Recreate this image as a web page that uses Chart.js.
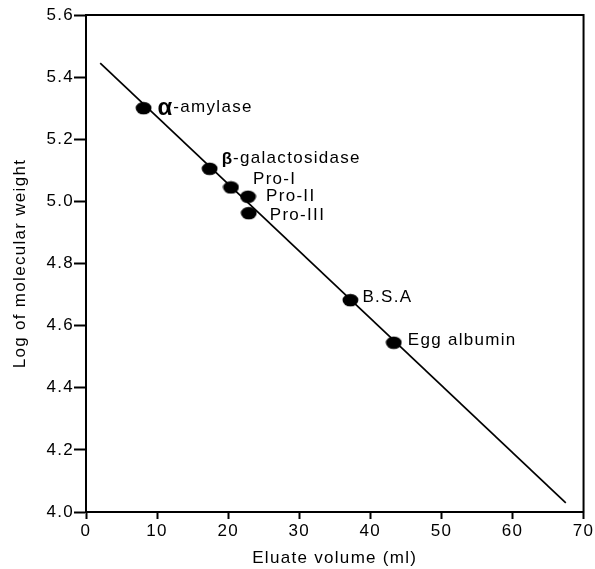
<!DOCTYPE html>
<html>
<head>
<meta charset="utf-8">
<script src="https://cdn.jsdelivr.net/npm/chart.js@4/dist/chart.umd.min.js"></script>
<style>
  html, body { margin: 0; padding: 0; background: #fff; }
  #wrap { width: 595px; height: 569px; }
</style>
</head>
<body>
<div id="wrap"><canvas id="graf"></canvas></div>
<script>
  // proteins
  const proteins = ['α-amylase', 'β-galactosidase', 'Pro-I', 'Pro-II', 'Pro-III', 'B.S.A', 'Egg albumin'];
  const eluateVol = [8.1, 17.4, 20.4, 22.8, 22.9, 37.2, 43.3];
  const logMW = [5.30, 5.105, 5.045, 5.015, 4.962, 4.682, 4.545];

  // fitted line endpoints
  const lineVol = [2.0, 67.5];
  const lineLogMW = [5.445, 4.029];

  const xTicks = [0, 10, 20, 30, 40, 50, 60, 70];
  const yTicks = [4.0, 4.2, 4.4, 4.6, 4.8, 5.0, 5.2, 5.4, 5.6];

  // ellipse marker
  const marca = document.createElement('canvas');
  marca.width = 17; marca.height = 14;
  const mc = marca.getContext('2d');
  mc.fillStyle = '#000';
  mc.beginPath();
  mc.ellipse(8.5, 7, 7.9, 6.3, 0, 0, Math.PI * 2);
  mc.fill();

  const fonte = '"Liberation Sans", Arial, Helvetica, sans-serif';
  const espaco = '1.3px';

  // label offsets from each point (px)
  const offsets = [[14, -1], [12, -10], [22, -8], [18, 0], [21, 2], [12, -2.5], [14, -2.5]];

  const rotulos = {
    id: 'rotulos',
    afterDatasetsDraw(chart) {
      const c = chart.ctx;
      const meta = chart.getDatasetMeta(1);
      c.save();
      c.fillStyle = '#000';
      c.textBaseline = 'middle';
      c.textAlign = 'left';
      meta.data.forEach((pt, i) => {
        let x = pt.x + offsets[i][0];
        const y = pt.y + offsets[i][1];
        let nome = proteins[i];
        if (i === 0 || i === 1) {
          const grego = nome[0];
          c.letterSpacing = '0px';
          c.font = i === 0 ? 'bold 24px ' + fonte : 'bold 17px ' + fonte;
          c.fillText(grego, x, y + 1);
          x += c.measureText(grego).width + 1;
          nome = nome.slice(1);
        }
        c.letterSpacing = espaco;
        c.font = '17px ' + fonte;
        c.fillText(nome, x, y);
      });
      c.restore();
    }
  };

  const moldura = {
    id: 'moldura',
    beforeDraw(chart) {
      chart.ctx.letterSpacing = espaco;
    },
    afterDraw(chart) {
      const a = chart.chartArea;
      const c = chart.ctx;
      c.save();
      c.strokeStyle = '#000';
      c.lineWidth = 2;
      c.strokeRect(a.left, a.top, a.right - a.left, a.bottom - a.top);
      c.restore();
    }
  };

  const ctx = document.getElementById('graf').getContext('2d');
  new Chart(ctx, {
    type: 'scatter',
    data: {
      datasets: [{
        data: lineVol.map((v, i) => ({ x: v, y: lineLogMW[i] })),
        showLine: true,
        borderColor: '#000',
        borderWidth: 1.7,
        pointRadius: 0,
        fill: false
      }, {
        data: eluateVol.map((v, i) => ({ x: v, y: logMW[i] })),
        pointStyle: marca,
        backgroundColor: '#000',
        borderColor: '#000'
      }]
    },
    options: {
      responsive: true,
      maintainAspectRatio: false,
      animation: false,
      layout: { padding: { left: 0, top: 15, right: 11, bottom: 0 } },
      plugins: {
        legend: { display: false },
        tooltip: { enabled: false }
      },
      scales: {
        x: {
          type: 'linear',
          min: 0, max: 70,
          afterBuildTicks: s => { s.ticks = xTicks.map(v => ({ value: v })); },
          afterFit: s => { s.height = 57; },
          border: { color: '#000', width: 2 },
          grid: { drawOnChartArea: false, color: '#000', tickLength: 7, tickWidth: 2 },
          ticks: { color: '#000', font: { family: fonte, size: 17 }, padding: 2, maxRotation: 0 },
          title: { display: true, text: 'Eluate volume (ml)', color: '#000', font: { family: fonte, size: 17 }, padding: { top: 0, bottom: 0 } }
        },
        y: {
          min: 4.0, max: 5.6,
          afterBuildTicks: s => { s.ticks = yTicks.map(v => ({ value: v })); },
          afterFit: s => { s.width = 86; },
          border: { color: '#000', width: 2 },
          grid: { drawOnChartArea: false, color: '#000', tickLength: 12, tickWidth: 2 },
          ticks: { color: '#000', font: { family: fonte, size: 17 }, padding: 0, callback: v => v.toFixed(1) },
          title: { display: true, text: 'Log of molecular weight', color: '#000', font: { family: fonte, size: 17 }, padding: { top: 10, bottom: 0 } }
        }
      }
    },
    plugins: [rotulos, moldura]
  });
</script>
</body>
</html>
